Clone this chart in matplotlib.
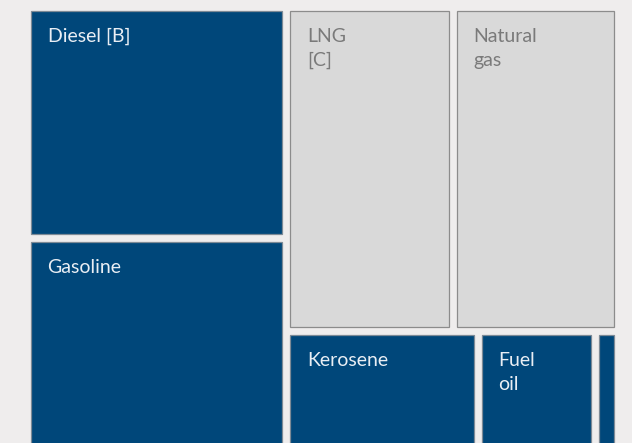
import matplotlib
matplotlib.use("Agg")
import matplotlib.pyplot as plt
from matplotlib.patches import Rectangle

# ---- data ----
left_names = ["Diesel [B]", "Gasoline"]
left_values = [99, 106]
top_right_names = ["LNG\n[C]", "Natural\ngas"]
top_right_values = [89, 88]
bottom_right_names = ["Kerosene", "Fuel\noil", ""]
bottom_right_values = [49, 30, 6]

BLUE = "#00477a"
GRAY = "#d9d9d9"
BG = "#efeded"

fig = plt.figure(figsize=(6.32, 4.43), dpi=100, facecolor=BG)
ax = fig.add_axes([0, 0, 1, 1])
ax.set_facecolor(BG)
ax.set_xlim(0, 632)
ax.set_ylim(443, 0)
ax.axis("off")

GAP = 8
X0, X1, Y0, Y1 = 27, 618, 7, 486


def draw(name, x, y, w, h, face, tcolor, edge):
    g = GAP / 2
    ax.add_patch(Rectangle((x + g, y + g), w - GAP, h - GAP, facecolor=face,
                           edgecolor=edge, linewidth=0.9))
    if name:
        ax.text(x + g + 16.5, y + g + 17, name, color=tcolor, fontsize=14,
                family="Lato", va="top", ha="left", linespacing=1.5)


def hsplit(names, vals, x, y, w, h, face, tcolor, edge):
    tot = sum(vals)
    cx = x
    for n, v in zip(names, vals):
        cw = w * v / tot
        draw(n, cx, y, cw, h, face, tcolor, edge)
        cx += cw


def vsplit_rects(vals, y, h):
    tot = sum(vals)
    out = []
    cy = y
    for v in vals:
        ch = h * v / tot
        out.append((cy, ch))
        cy += ch
    return out


total = sum(left_values) + sum(top_right_values) + sum(bottom_right_values)
W = X1 - X0
H = Y1 - Y0
lw = W * sum(left_values) / total

# left column
for n, (cy, ch) in zip(left_names, vsplit_rects(left_values, Y0, H)):
    draw(n, X0, cy, lw, ch, BLUE, "#e9eef4", "#7d8a96")

# right column
rx = X0 + lw
rw = W - lw
rows = vsplit_rects([sum(top_right_values), sum(bottom_right_values)], Y0, H)
hsplit(top_right_names, top_right_values, rx, rows[0][0], rw, rows[0][1],
       GRAY, "#7a7a7a", "#8c8c8c")
hsplit(bottom_right_names, bottom_right_values, rx, rows[1][0], rw, rows[1][1],
       BLUE, "#e9eef4", "#7d8a96")

fig.savefig("out.png", dpi=100, facecolor=BG)
